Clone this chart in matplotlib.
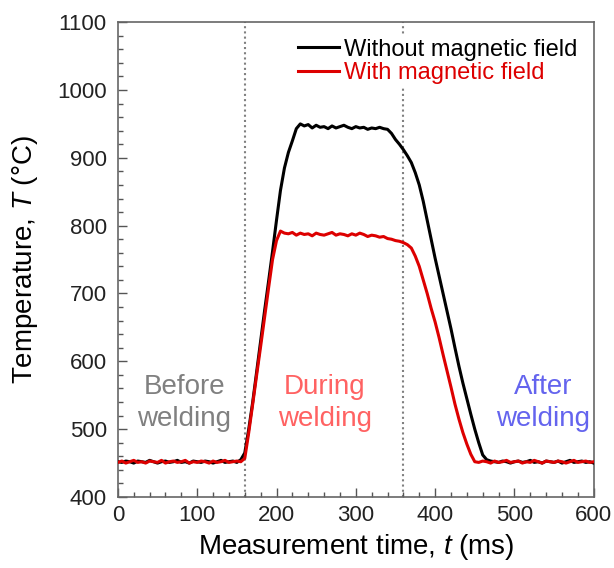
import numpy as np
import matplotlib
matplotlib.use("Agg")
from matplotlib import pyplot as plt
from matplotlib.ticker import MultipleLocator

plt.rcParams['font.family'] = ['Liberation Sans', 'DejaVu Sans']
plt.rcParams['mathtext.fontset'] = 'custom'
plt.rcParams['mathtext.rm'] = 'Liberation Sans'
plt.rcParams['mathtext.it'] = 'Liberation Sans:italic'

# time axis, 5 ms sampling
t_ms = np.arange(0, 605, 5)

T_without = [452, 451, 453, 452, 450, 453, 452, 451, 454, 452, 450, 452, 453, 451, 452, 454,
             451, 452, 450, 453, 452, 451, 453, 452, 450, 452, 454, 451, 452, 453, 451,
             455,
             465, 500, 540, 585, 630, 675, 718, 762, 808, 852, 885, 908, 925, 943, 950,
             947, 949, 944, 948, 945, 946, 943, 947, 944, 946, 948, 945, 943, 946, 944,
             945, 942, 944, 943, 945, 943, 942,
             936, 927, 920, 912, 903, 893, 878, 860, 836, 808, 780, 752, 726, 700, 674,
             648, 620, 593, 568, 545, 522, 500, 480, 462, 455,
             453, 452, 451, 453, 452, 450, 452, 453, 451, 452, 454, 451, 452, 450, 453,
             452, 451, 453, 450, 452, 454, 451, 452, 453, 451, 452, 450]

T_with = [451, 453, 450, 452, 454, 451, 452, 450, 453, 452, 451, 454, 450, 452, 453, 451,
          452, 454, 450, 452, 451, 453, 452, 450, 453, 451, 452, 454, 451, 452, 453, 452,
          457, 495, 537, 580, 622, 665, 708, 750, 778, 792, 789,
          788, 790, 786, 789, 787, 788, 785, 789, 787, 786, 788, 790, 786, 788, 787,
          785, 788, 786, 789, 787, 784, 786, 785, 783, 784, 781, 780, 778,
          777, 775, 772, 767, 755, 740, 720, 700, 678, 658, 635, 610, 586, 562, 537,
          515, 495, 478, 463, 452,
          451, 453, 452, 450, 453, 451, 452, 454, 451, 452, 453, 450, 452, 451, 454,
          452, 450, 453, 452, 451, 453, 452, 450, 452, 454, 451, 452, 453, 451, 452]

stage_bounds = [160, 360]
stage_names = ["Before\nwelding", "During\nwelding", "After\nwelding"]
stage_x = [84, 261, 536]
stage_colors = ["#808080", "#ff6262", "#6464ee"]

fig = plt.figure(figsize=(6.14, 5.68), dpi=100)
ax = fig.add_axes([0.192, 0.125, 0.775, 0.836])

for b in stage_bounds:
    ax.axvline(b, color="#808080", lw=1.5, ls=(0, (1, 1.5)), zorder=1)

ax.plot(t_ms, T_without, color="black", lw=2.2, label="Without magnetic field", zorder=3)
ax.plot(t_ms, T_with, color="#dd0000", lw=2.2, label="With magnetic field", zorder=4)

for name, x, c in zip(stage_names, stage_x, stage_colors):
    ax.text(x, 538, name, color=c, fontsize=20, ha="center", va="center", linespacing=1.3)

ax.set_xlim(0, 600)
ax.set_ylim(400, 1100)
ax.xaxis.set_major_locator(MultipleLocator(100))
ax.xaxis.set_minor_locator(MultipleLocator(20))
ax.yaxis.set_major_locator(MultipleLocator(100))
ax.yaxis.set_minor_locator(MultipleLocator(20))
ax.tick_params(which="both", direction="in", top=False, right=False, colors="#555555",
               labelcolor="#222222", labelsize=16)
ax.tick_params(which="major", length=6.5, width=1)
ax.tick_params(which="minor", length=3.5, width=1)
ax.tick_params(axis="y", pad=8)
ax.tick_params(axis="x", pad=6)
for s in ax.spines.values():
    s.set_color("#666666")
    s.set_linewidth(1.2)

ax.set_xlabel("Measurement time, $t$ (ms)", fontsize=20, labelpad=4)
ax.set_ylabel("Temperature, $T$ (°C)", fontsize=20, labelpad=12)

leg = ax.legend(loc="upper right", fontsize=17, frameon=True, framealpha=1,
                facecolor="white", edgecolor="none", handlelength=1.75,
                handletextpad=0.2, labelspacing=0.05, borderpad=0.1,
                bbox_to_anchor=(0.995, 0.995))
for txt, line in zip(leg.get_texts(), leg.get_lines()):
    txt.set_color(line.get_color())

fig.savefig("out.png", dpi=100)
